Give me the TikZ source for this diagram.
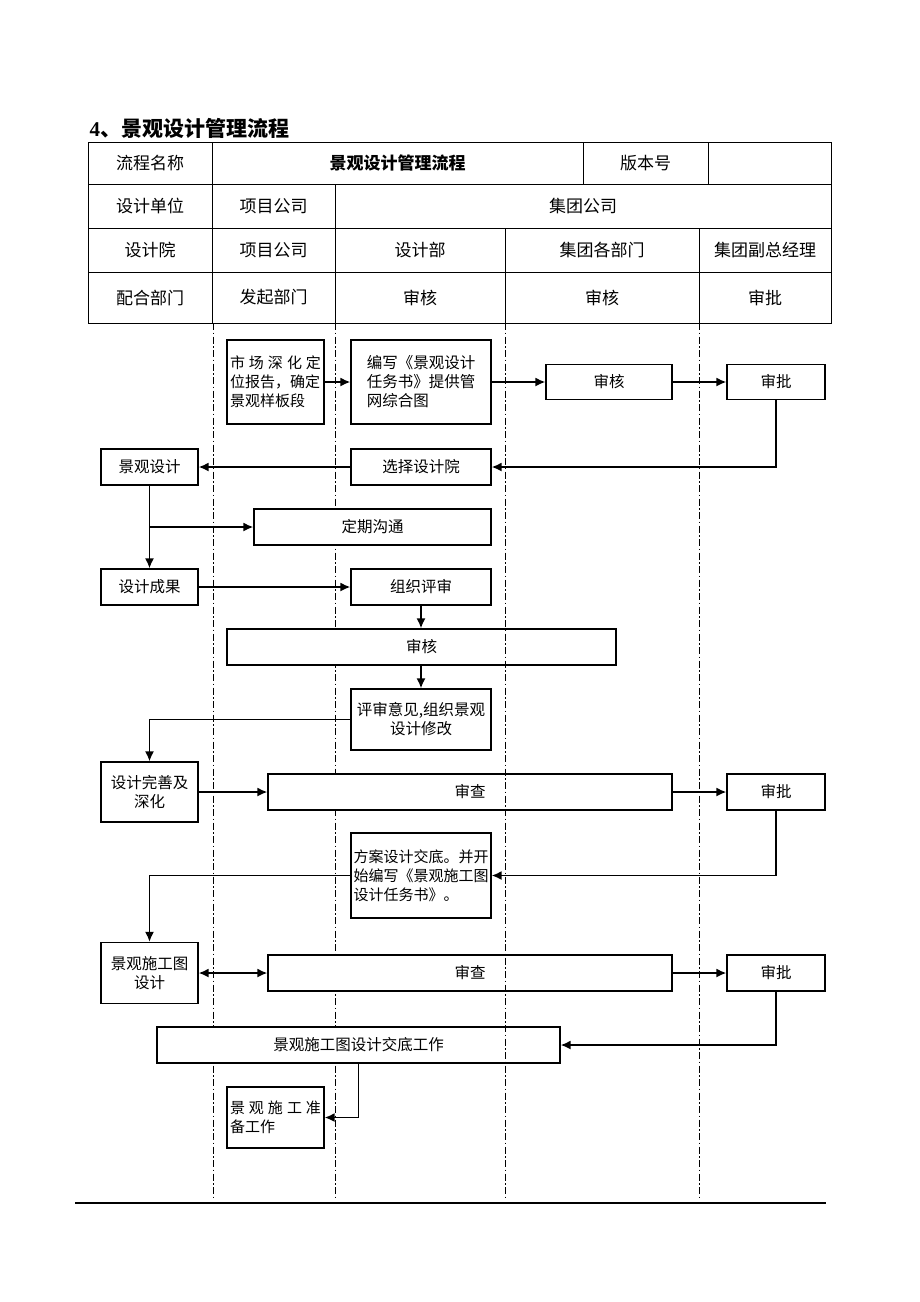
\documentclass[tikz,border=0pt]{standalone}
\usepackage{fontspec}
\setmainfont{Liberation Serif}
\newfontfamily\cjk{Noto Sans CJK SC}
\usetikzlibrary{arrows.meta,positioning}

\tikzset{
  box/.style={draw,fill=white,line width=1.2pt,inner sep=1pt,font=\cjk\fontsize{15.5}{19}\selectfont},
  cell/.style={font=\cjk\fontsize{17}{20}\selectfont},
  lane/.style={line width=1pt,dash pattern=on 7pt off 2.5pt on 1.5pt off 2.5pt},
  flow/.style={->,line width=1.8pt},
}

\begin{document}
\begin{tikzpicture}[x=1pt,y=-1pt,>={Latex[length=10pt,width=9pt]}]
		\useasboundingbox (0,0) rectangle (920,1302);
		% title
		\node[anchor=west,font=\bfseries\fontsize{21}{24}\selectfont] (title) at (86,128) {4{\cjk\bfseries 、景观设计管理流程}};

		% table
		\draw[line width=1pt] (88,142) rectangle (831,323);
		\draw[line width=1pt] (88,184) -- (831,184) (88,228) -- (831,228) (88,272) -- (831,272);
		\draw[line width=1pt] (212,142) -- (212,323) (583,142) -- (583,184) (708,142) -- (708,184)
				(335,184) -- (335,323) (505,228) -- (505,323) (699,228) -- (699,323);
		\node[cell] (n11) at (150,163) {流程名称};
		\node[cell,font=\cjk\bfseries\fontsize{17}{20}\selectfont] (n12) at (397.5,163) {景观设计管理流程};
		\node[cell] (n13) at (645.5,163) {版本号};
		\node[cell] (n21) at (150,206) {设计单位};
		\node[cell] (n22) at (273.5,206) {项目公司};
		\node[cell] (n23) at (583,206) {集团公司};
		\node[cell] (n31) at (150,250) {设计院};
		\node[cell] (n32) at (273.5,250) {项目公司};
		\node[cell] (n33) at (420,250) {设计部};
		\node[cell] (n34) at (602,250) {集团各部门};
		\node[cell] (n35) at (765,250) {集团副总经理};
		\node[cell] (n41) at (150,297.5) {配合部门};
		\node[cell] (n42) at (273.5,297.5) {发起部门};
		\node[cell] (n43) at (420,297.5) {审核};
		\node[cell] (n44) at (602,297.5) {审核};
		\node[cell] (n45) at (765,297.5) {审批};

		% lanes
		\foreach \x in {213,335,699}
			\draw[lane] (\x,323) -- (\x,1200);

		% boxes
		\node[box,minimum width=97,minimum height=84,align=left,font=\cjk\fontsize{15}{19}\selectfont] (mkt) at (275.5,382)
			{\makebox[91pt][s]{市\hfill 场\hfill 深\hfill 化\hfill 定}\\位报告，确定\\景观样板段};
		\node[box,minimum width=140,minimum height=84,align=left] (task) at (421,382) {编写《景观设计\\任务书》提供管\\网综合图};
		\node[box,minimum width=126,minimum height=35] (chk1) at (609,382) {审核};
		\node[box,minimum width=98,minimum height=35] (apv1) at (776,382) {审批};
		\node[box,minimum width=140,minimum height=36] (pick) at (421,467) {选择设计院};
		\node[box,minimum width=97,minimum height=36] (ldes) at (149.5,467) {景观设计};
		\node[box,minimum width=237,minimum height=36] (talk) at (372.5,527) {定期沟通};
		\node[box,minimum width=97,minimum height=36] (result) at (149.5,587) {设计成果};
		\node[box,minimum width=140,minimum height=36] (review) at (421,587) {组织评审};
		\node[box,minimum width=389,minimum height=36] (chk2) at (421.5,647) {审核};
		\node[box,minimum width=140,minimum height=61,align=center] (revise) at (421,719.5) {评审意见,组织景观\\设计修改};
		\node[box,minimum width=97,minimum height=60,align=center] (deepen) at (149.5,792) {设计完善及\\深化};
		\node[box,minimum width=404,minimum height=36] (audit1) at (470,792) {审查};
		\node[box,minimum width=98,minimum height=36] (apv2) at (776,792) {审批};
		\node[box,minimum width=140,minimum height=85,align=left,font=\cjk\fontsize{15}{19}\selectfont] (brief) at (421,875.5)
			{方案设计交底。并开\\始编写《景观施工图\\设计任务书》。};
		\node[box,minimum width=97,minimum height=61,align=center] (cdes) at (149.5,973) {景观施工图\\设计};
		\node[box,minimum width=404,minimum height=36] (audit2) at (470,973) {审查};
		\node[box,minimum width=98,minimum height=36] (apv3) at (776,973) {审批};
		\node[box,minimum width=403,minimum height=36] (cbrief) at (358.5,1045) {景观施工图设计交底工作};
		\node[box,minimum width=97,minimum height=61,align=left,font=\cjk\fontsize{15}{19}\selectfont] (prep) at (275.5,1117.5)
			{\makebox[91pt][s]{景\hfill 观\hfill 施\hfill 工\hfill 准}\\备工作};

		% lane seen through the wide boxes
		\draw[lane] (505,323) -- (505,1200);

		% connectors
		\draw[flow] (mkt) -- (task);
		\draw[flow] (task) -- (chk1);
		\draw[flow] (chk1) -- (apv1);
		\draw[flow] (apv1.south) |- (pick.east);
		\draw[flow] (pick) -- (ldes);
		\draw[flow] (ldes) -- (result);
		\coordinate (fork) at (ldes.south |- talk.west);
		\draw[flow] (fork) -- (talk.west);
		\draw[flow] (result) -- (review);
		\draw[flow] (review.south) -- (review.south |- chk2.north);
		\draw[flow] (revise.north |- chk2.south) -- (revise.north);
		\draw[flow] (revise.west) -| (deepen.north);
		\draw[flow] (deepen) -- (audit1);
		\draw[flow] (audit1) -- (apv2);
		\draw[flow] (apv2.south) |- (brief.east);
		\draw[flow] (brief.west) -| (cdes.north);
		\draw[flow,<->] (cdes) -- (audit2);
		\draw[flow] (audit2) -- (apv3);
		\draw[flow] (apv3.south) |- (cbrief.east);
		\draw[flow] (cbrief.south) |- (prep.east);

		% foot rule
		\draw[line width=1.5pt] (75,1203) -- (826,1203);
\end{tikzpicture}
\end{document}
